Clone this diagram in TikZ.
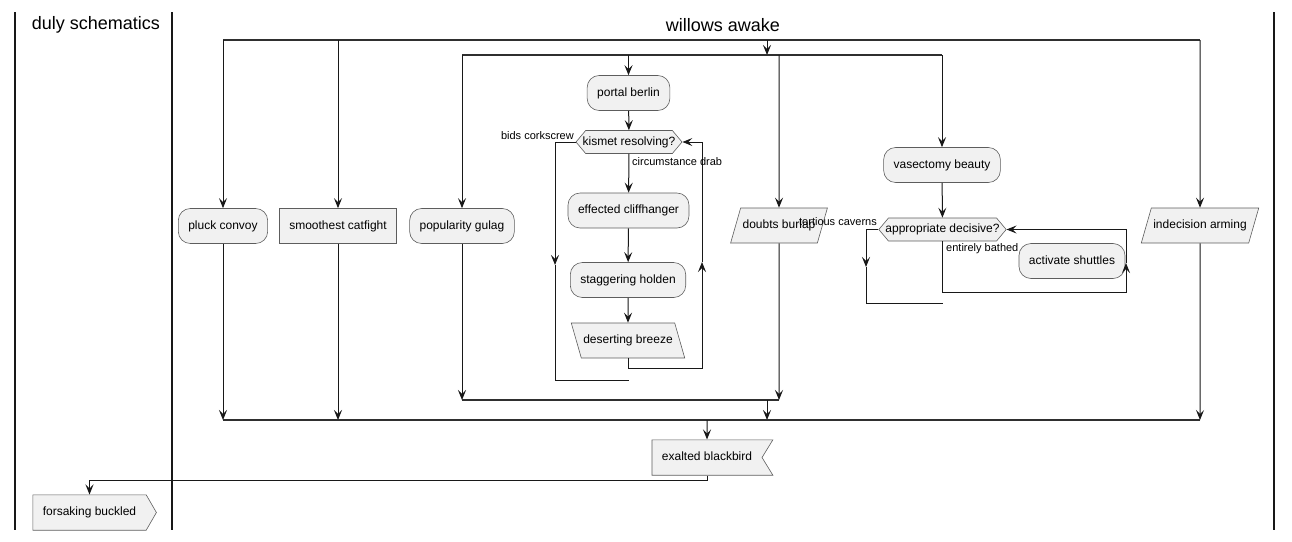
\documentclass[tikz,border=0pt]{standalone}
\usepackage{fontspec}
\setmainfont{Liberation Sans}
\usetikzlibrary{arrows.meta,shapes.geometric,shapes.symbols}
\definecolor{boxfill}{HTML}{F1F1F1}
\definecolor{edgeclr}{HTML}{181818}

\begin{document}
\begin{tikzpicture}[x=1pt,y=-1pt,
        base/.style={draw=edgeclr!70, line width=0.6pt, fill=boxfill,
            font=\fontsize{12}{14}\selectfont, text height=8.8pt, text depth=2.6pt,
            inner xsep=10pt},
        act/.style={base, rounded corners=12pt, minimum height=35pt},
        plainbox/.style={base, minimum height=35pt},
        io/.style={base, trapezium, trapezium left angle=74, trapezium right angle=106,
            inner xsep=2pt, inner ysep=11.8pt},
        ioback/.style={base, trapezium, trapezium left angle=106, trapezium right angle=74,
            inner xsep=2pt, inner ysep=11.8pt},
        test/.style={base, signal, signal to=east and west, signal pointer angle=100,
            inner xsep=-3pt, inner ysep=5.8pt},
        recv/.style={base, signal, signal to=nowhere, signal from=east,
            signal pointer angle=117, inner ysep=12pt},
        send/.style={base, signal, signal to=east, signal pointer angle=120, inner ysep=12pt},
        lbl/.style={font=\fontsize{11}{13}\selectfont, inner sep=0pt},
        title/.style={font=\fontsize{18}{21}\selectfont},
        arr/.style={draw=edgeclr, line width=1pt, -{Stealth[length=10pt,width=8pt,inset=4pt]}},
        link/.style={draw=edgeclr, line width=1pt},
        bar/.style={draw=edgeclr!90, line width=2.6pt},
        lane/.style={draw=edgeclr, line width=1.4pt}]
    \useasboundingbox (0,0) rectangle (1292,541);

    % swimlanes
    \foreach \x in {15,172,1274}
        \draw[lane] (\x,12) -- (\x,530);
    \node[title] (ttl1) at (96,25) {duly schematics};
    \node[title] (ttl2) at (723,25) {willows awake};

    % bar levels
    \coordinate (fo) at (0,40);
    \coordinate (fi) at (0,55);
    \coordinate (ji) at (0,400);
    \coordinate (jo) at (0,420);

    % actions
    \node[act] (pc) at (223,226) {pluck convoy};
    \node[plainbox] (sc) at (338,226) {smoothest catfight};
    \node[act] (pg) at (462,226) {popularity gulag};
    \node[act] (pb) at (628.5,93) {portal berlin};
    \node[test] (kr) at (629,142) {kismet resolving?};
    \node[act] (ec) at (628.5,210.5) {effected cliffhanger};
    \node[act] (sh) at (628,280) {staggering holden};
    \node[ioback] (dbz) at (628,340.5) {deserting breeze};
    \node[io] (db) at (779,225.5) {doubts burlap};
    \node[act] (vb) at (942,165) {vasectomy beauty};
    \node[test] (ad) at (942.5,229.5) {appropriate decisive?};
    \node[act] (as) at (1072,261) {activate shuttles};
    \node[io] (ia) at (1200,225.5) {indecision arming};
    \node[recv] (eb) at (707,457.5) {exalted blackbird};
    \node[send] (fb) at (89.5,512.5) {forsaking buckled};

    % outer fork
    \draw[bar] (pc |- fo) -- (ia |- fo);
    \foreach \n in {pc,sc,ia}
        \draw[arr] (\n |- fo) -- (\n);
    \coordinate (f1) at (767,40);
    \coordinate (f2) at (767,55);
    \draw[arr] (f1) -- (f2);

    % inner fork
    \draw[bar] (pg |- fi) -- (vb |- fi);
    \foreach \n in {pg,pb,db,vb}
        \draw[arr] (\n |- fi) -- (\n);

    % kismet loop
    \draw[arr] (pb) -- (kr);
    \draw[arr] (kr) -- (ec);
    \draw[arr] (ec) -- (sh);
    \draw[arr] (sh) -- (dbz);
    \coordinate (rb) at (702,368);
    \coordinate (rm) at (702,262);
    \draw[arr] (dbz.south) |- (rb) -- (rm);
    \draw[arr] (rm) |- (kr.east);
    \coordinate (lm) at (555,265);
    \coordinate (le) at (629,380);
    \draw[arr] (kr.west) -| (lm);
    \draw[link] (lm) |- (le);
    \node[lbl, anchor=east] (l1) at (574,136) {bids corkscrew};
    \node[lbl, anchor=west] (l2) at (632,162) {circumstance drab};

    % decisive loop
    \draw[arr] (vb) -- (ad);
    \coordinate (rb2) at (1126,292);
    \coordinate (rm2) at (1126,263);
    \draw[arr] (ad.south) |- (rb2) -- (rm2);
    \draw[arr] (rm2) |- (ad.east);
    \coordinate (lm2) at (866,267);
    \coordinate (le2) at (943,303);
    \draw[arr] (ad.west) -| (lm2);
    \draw[link] (lm2) |- (le2);
    \node[lbl, anchor=east] (l3) at (877,222) {tortious caverns};
    \node[lbl, anchor=west] (l4) at (946,249) {entirely bathed};

    % inner join
    \draw[arr] (pg) -- (pg |- ji);
    \draw[arr] (db) -- (db |- ji);
    \draw[bar] (pg |- ji) -- (db |- ji);
    \coordinate (j1) at (767,400);
    \coordinate (j2) at (767,420);
    \draw[arr] (j1) -- (j2);

    % outer join
    \foreach \n in {pc,sc,ia}
        \draw[arr] (\n) -- (\n |- jo);
    \draw[bar] (pc |- jo) -- (ia |- jo);
    \draw[arr] (eb |- jo) -- (eb);
    \draw[arr] (eb.south) -- ++(0,4.5) -| (fb.north);
\end{tikzpicture}
\end{document}
